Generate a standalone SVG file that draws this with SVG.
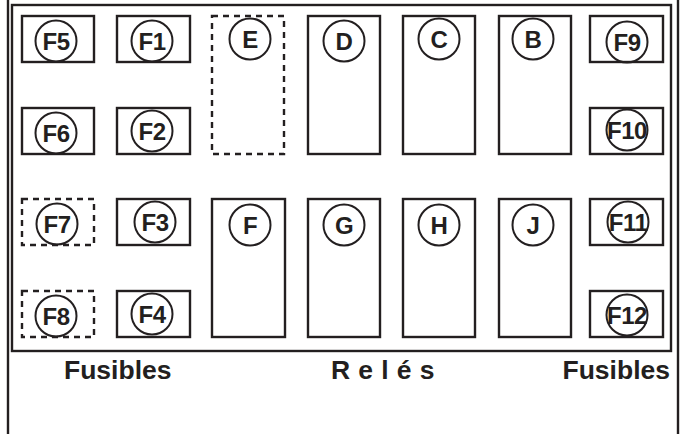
<svg xmlns="http://www.w3.org/2000/svg" width="683" height="434" viewBox="0 0 683 434">
<style>
.box{fill:none;stroke:#231f20;stroke-width:2.4}
.dash{fill:none;stroke:#231f20;stroke-width:2.4;stroke-dasharray:6 5}
.c{fill:none;stroke:#231f20;stroke-width:2}
.t{font-family:"Liberation Sans",Arial,sans-serif;font-weight:bold;font-size:24px;fill:#231f20;text-anchor:middle;letter-spacing:-0.5px}
.lbl{font-family:"Liberation Sans",Arial,sans-serif;font-weight:bold;font-size:26.5px;fill:#231f20}
</style>
<rect width="683" height="434" fill="#fff"/>
<g id="frame">
<rect x="8" y="-10" width="670" height="460" class="box"/>
<rect x="12" y="5" width="659" height="346" class="box"/>
</g>
<g id="connectors"></g>
<g id="F5"><rect class="box" x="22" y="16" width="72" height="46"/><circle class="c" cx="56" cy="41" r="20.5"/><text class="t" x="56" y="50">F5</text></g>
<g id="F1"><rect class="box" x="117" y="16" width="73" height="46"/><circle class="c" cx="152" cy="41" r="20.5"/><text class="t" x="152" y="50">F1</text></g>
<g id="F6"><rect class="box" x="22" y="108" width="72" height="46"/><circle class="c" cx="56" cy="133" r="20.5"/><text class="t" x="56" y="142">F6</text></g>
<g id="F2"><rect class="box" x="117" y="108" width="73" height="46"/><circle class="c" cx="152" cy="131" r="20.5"/><text class="t" x="152" y="140">F2</text></g>
<g id="F7"><rect class="dash" x="22" y="199" width="72" height="46"/><circle class="c" cx="57" cy="224" r="20.5"/><text class="t" x="57" y="233">F7</text></g>
<g id="F3"><rect class="box" x="117" y="199" width="73" height="46"/><circle class="c" cx="155" cy="222" r="20.5"/><text class="t" x="155" y="231">F3</text></g>
<g id="F8"><rect class="dash" x="22" y="291" width="72" height="46"/><circle class="c" cx="56" cy="316" r="20.5"/><text class="t" x="56" y="325">F8</text></g>
<g id="F4"><rect class="box" x="117" y="291" width="73" height="46"/><circle class="c" cx="152" cy="314" r="20.5"/><text class="t" x="152" y="323">F4</text></g>
<g id="E"><rect class="dash" x="212" y="16" width="72" height="138"/><circle class="c" cx="250" cy="39" r="20.5"/><text class="t" x="250" y="48">E</text></g>
<g id="D"><rect class="box" x="308" y="16" width="72" height="138"/><circle class="c" cx="344" cy="41" r="20.5"/><text class="t" x="344" y="50">D</text></g>
<g id="C"><rect class="box" x="403" y="16" width="72" height="138"/><circle class="c" cx="439" cy="39" r="20.5"/><text class="t" x="439" y="48">C</text></g>
<g id="B"><rect class="box" x="499" y="16" width="72" height="138"/><circle class="c" cx="533" cy="39" r="20.5"/><text class="t" x="533" y="48">B</text></g>
<g id="F9"><rect class="box" x="590" y="16" width="73" height="46"/><circle class="c" cx="627" cy="42" r="20.5"/><text class="t" x="627" y="51">F9</text></g>
<g id="F10"><rect class="box" x="590" y="108" width="73" height="46"/><circle class="c" cx="627" cy="130" r="20.5"/><text class="t" x="627" y="139">F10</text></g>
<g id="F"><rect class="box" x="212" y="199" width="73" height="138"/><circle class="c" cx="250" cy="225" r="20.5"/><text class="t" x="250" y="234">F</text></g>
<g id="G"><rect class="box" x="308" y="199" width="72" height="138"/><circle class="c" cx="344" cy="225" r="20.5"/><text class="t" x="344" y="234">G</text></g>
<g id="H"><rect class="box" x="403" y="199" width="72" height="138"/><circle class="c" cx="439" cy="225" r="20.5"/><text class="t" x="439" y="234">H</text></g>
<g id="J"><rect class="box" x="499" y="199" width="72" height="138"/><circle class="c" cx="533" cy="225" r="20.5"/><text class="t" x="533" y="234">J</text></g>
<g id="F11"><rect class="box" x="590" y="199" width="73" height="46"/><circle class="c" cx="628" cy="222" r="20.5"/><text class="t" x="628" y="231">F11</text></g>
<g id="F12"><rect class="box" x="590" y="291" width="73" height="46"/><circle class="c" cx="627" cy="315" r="20.5"/><text class="t" x="627" y="324">F12</text></g>
<g id="labels">
<text class="lbl" x="64" y="379">Fusibles</text>
<text class="lbl" x="331" y="379" letter-spacing="0.4">R e l é s</text>
<text class="lbl" x="670" y="379" text-anchor="end">Fusibles</text>
</g>
</svg>
